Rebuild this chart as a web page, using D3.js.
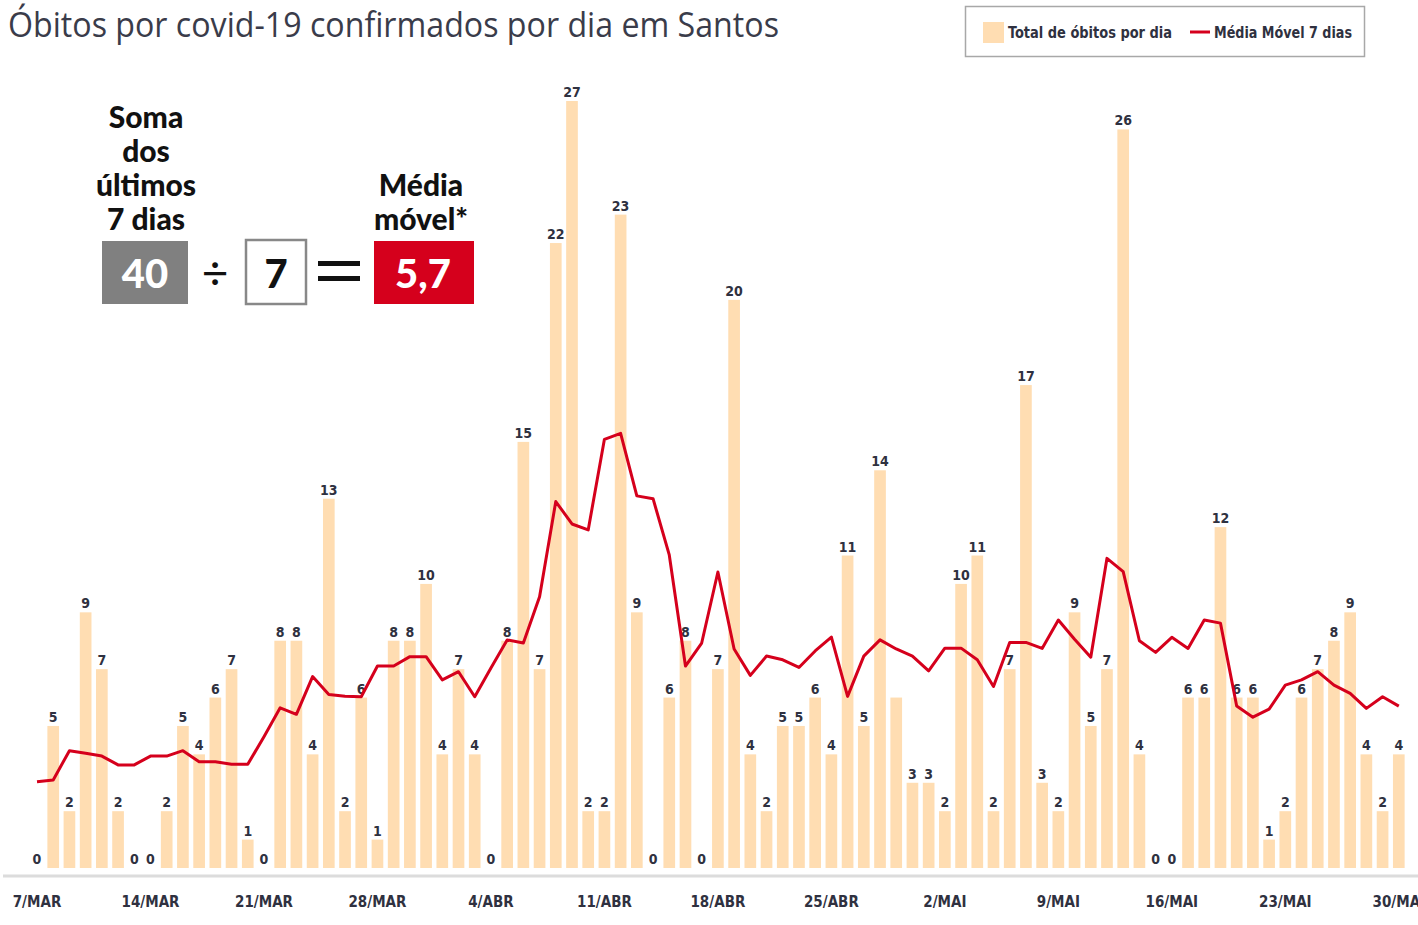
<!DOCTYPE html>
<html>
<head>
<meta charset="utf-8">
<script src="https://cdn.jsdelivr.net/npm/d3@7"></script>
<style>
    body { margin: 0; background: #fff; }
    .narrow { font-family: "Liberation Sans Narrow", "DejaVu Sans Condensed", "Roboto", sans-serif; }
    .heavy { font-family: "Lato", "Roboto", sans-serif; font-weight: 900; }
</style>
</head>
<body>
<div id="chart"></div>
<script>
// Daily deaths, 7/MAR to 30/MAI (one value per day)
const dailyDeaths = [
    0, 5, 2, 9, 7, 2, 0,
    0, 2, 5, 4, 6, 7, 1,
    0, 8, 8, 4, 13, 2, 6,
    1, 8, 8, 10, 4, 7, 4,
    0, 8, 15, 7, 22, 27, 2,
    2, 23, 9, 0, 6, 8, 0,
    7, 20, 4, 2, 5, 5, 6,
    4, 11, 5, 14, 6, 3, 3,
    2, 10, 11, 2, 7, 17, 3,
    2, 9, 5, 7, 26, 4, 0,
    0, 6, 6, 12, 6, 6, 1,
    2, 6, 7, 8, 9, 4, 2,
    4
];

// 7-day moving average as drawn in the original
const movingAverage = [
    3.04, 3.10, 4.13, 4.04, 3.94, 3.63, 3.63,
    3.94, 3.94, 4.13, 3.74, 3.74, 3.65, 3.65,
    4.62, 5.64, 5.41, 6.74, 6.11, 6.05, 6.03,
    7.11, 7.11, 7.44, 7.44, 6.62, 6.91, 6.03,
    7.04, 8.03, 7.92, 9.55, 12.90, 12.11, 11.90,
    15.09, 15.30, 13.10, 13.00, 11.02, 7.11, 7.92,
    10.42, 7.71, 6.78, 7.46, 7.33, 7.06, 7.64,
    8.13, 6.04, 7.46, 8.03, 7.71, 7.46, 6.94,
    7.74, 7.74, 7.33, 6.39, 7.94, 7.94, 7.73,
    8.73, 8.05, 7.42, 10.90, 10.43, 8.00, 7.59,
    8.12, 7.73, 8.73, 8.62, 5.70, 5.31, 5.59,
    6.44, 6.62, 6.91, 6.44, 6.15, 5.62, 6.03,
    5.70
];

// Axis labels, one every 7 days
const tickLabels = ["7/MAR", "14/MAR", "21/MAR", "28/MAR", "4/ABR", "11/ABR", "18/ABR",
    "25/ABR", "2/MAI", "9/MAI", "16/MAI", "23/MAI", "30/MAI"];

// Bars whose label is covered in the original
const hiddenLabels = [53];

const days = d3.range(dailyDeaths.length);

const W = 1418, H = 925;
const barColor = "#FFDDB2";
const lineColor = "#D5001C";
const textColor = "#2f3140";

const svg = d3.select("#chart").append("svg")
    .attr("width", W)
    .attr("height", H);

const x = d3.scaleBand()
    .domain(days)
    .range([28.9, 1406.9])
    .paddingInner(0.28)
    .paddingOuter(0.14);

const y = d3.scaleLinear()
    .domain([0, 27])
    .range([868, 101]);

// Title
svg.append("text")
    .attr("x", 8)
    .attr("y", 37)
    .attr("textLength", 771)
    .attr("lengthAdjust", "spacingAndGlyphs")
    .style("font-family", "'Open Sans', sans-serif")
    .style("font-size", "35px")
    .style("fill", "#3a3c4a")
    .text("Óbitos por covid-19 confirmados por dia em Santos");

// Legend
const legend = svg.append("g").attr("class", "legend");
legend.append("rect")
    .attr("x", 965.5).attr("y", 6.5)
    .attr("width", 399).attr("height", 50)
    .style("fill", "#fff")
    .style("stroke", "#a8a8a8")
    .style("stroke-width", 1.5);
legend.append("rect")
    .attr("x", 983).attr("y", 22)
    .attr("width", 21).attr("height", 21)
    .style("fill", barColor);
legend.append("text")
    .attr("class", "narrow")
    .attr("x", 1008).attr("y", 38)
    .attr("textLength", 164)
    .attr("lengthAdjust", "spacingAndGlyphs")
    .style("font-size", "16px")
    .style("font-weight", "bold")
    .style("fill", textColor)
    .text("Total de óbitos por dia");
legend.append("line")
    .attr("x1", 1190).attr("x2", 1210)
    .attr("y1", 32).attr("y2", 32)
    .style("stroke", lineColor)
    .style("stroke-width", 3);
legend.append("text")
    .attr("class", "narrow")
    .attr("x", 1214).attr("y", 38)
    .attr("textLength", 138)
    .attr("lengthAdjust", "spacingAndGlyphs")
    .style("font-size", "16px")
    .style("font-weight", "bold")
    .style("fill", textColor)
    .text("Média Móvel 7 dias");

// Baseline
svg.append("line")
    .attr("x1", 3).attr("x2", W)
    .attr("y1", 876).attr("y2", 876)
    .style("stroke", "#dcdcdc")
    .style("stroke-width", 3);

// Bars
svg.selectAll(".bar")
    .data(days)
    .enter().append("rect")
    .attr("class", "bar")
    .attr("x", d => x(d))
    .attr("y", d => y(dailyDeaths[d]))
    .attr("width", x.bandwidth())
    .attr("height", d => y(0) - y(dailyDeaths[d]))
    .style("fill", barColor);

// Value labels
svg.selectAll(".label")
    .data(days.filter(d => !hiddenLabels.includes(d)))
    .enter().append("text")
    .attr("class", "label narrow")
    .attr("x", d => x(d) + x.bandwidth() / 2)
    .attr("y", d => y(dailyDeaths[d]) - 4)
    .attr("text-anchor", "middle")
    .style("font-size", "14px")
    .style("font-weight", "bold")
    .style("fill", textColor)
    .text(d => dailyDeaths[d]);

// Moving average line
const line = d3.line()
    .x(d => x(d) + x.bandwidth() / 2)
    .y(d => y(movingAverage[d]));

svg.append("path")
    .datum(days)
    .attr("d", line)
    .style("fill", "none")
    .style("stroke", lineColor)
    .style("stroke-width", 3)
    .style("stroke-linejoin", "round");

// X axis (every 7 days)
const xAxis = svg.append("g")
    .attr("transform", "translate(0,876)")
    .call(d3.axisBottom(x)
        .tickValues(days.filter(d => d % 7 === 0))
        .tickFormat(d => tickLabels[d / 7])
        .tickSize(0)
        .tickPadding(20));
xAxis.select(".domain").remove();
xAxis.selectAll("text")
    .attr("class", "narrow")
    .style("font-size", "15px")
    .style("font-weight", "bold")
    .style("fill", textColor);

// Explainer: soma / 7 = média móvel
const note = svg.append("g").attr("class", "heavy").style("fill", "#111");
["Soma", "dos", "últimos", "7 dias"].forEach((t, i) => {
    note.append("text")
        .attr("x", 146).attr("y", 128 + i * 34)
        .attr("text-anchor", "middle")
        .style("font-size", "30px")
        .text(t);
});
["Média", "móvel*"].forEach((t, i) => {
    note.append("text")
        .attr("x", 421).attr("y", 196 + i * 34)
        .attr("text-anchor", "middle")
        .style("font-size", "30px")
        .text(t);
});

note.append("rect")
    .attr("x", 102).attr("y", 241)
    .attr("width", 86).attr("height", 63)
    .style("fill", "#808080");
note.append("text")
    .attr("x", 145).attr("y", 288)
    .attr("text-anchor", "middle")
    .style("font-size", "40px")
    .style("fill", "#fff")
    .text("40");

note.append("text")
    .attr("x", 215).attr("y", 289)
    .attr("text-anchor", "middle")
    .style("font-size", "46px")
    .style("font-weight", "400")
    .text("÷");

note.append("rect")
    .attr("x", 246).attr("y", 240)
    .attr("width", 60).attr("height", 64)
    .style("fill", "#fff")
    .style("stroke", "#888")
    .style("stroke-width", 2.5);
note.append("text")
    .attr("x", 276).attr("y", 288)
    .attr("text-anchor", "middle")
    .style("font-size", "40px")
    .text("7");

note.append("rect").attr("x", 318).attr("y", 261).attr("width", 42).attr("height", 5);
note.append("rect").attr("x", 318).attr("y", 276).attr("width", 42).attr("height", 5);

note.append("rect")
    .attr("x", 374).attr("y", 241)
    .attr("width", 100).attr("height", 63)
    .style("fill", "#D5001C");
note.append("text")
    .attr("x", 423).attr("y", 288)
    .attr("text-anchor", "middle")
    .style("font-size", "40px")
    .style("fill", "#fff")
    .text("5,7");
</script>
</body>
</html>
